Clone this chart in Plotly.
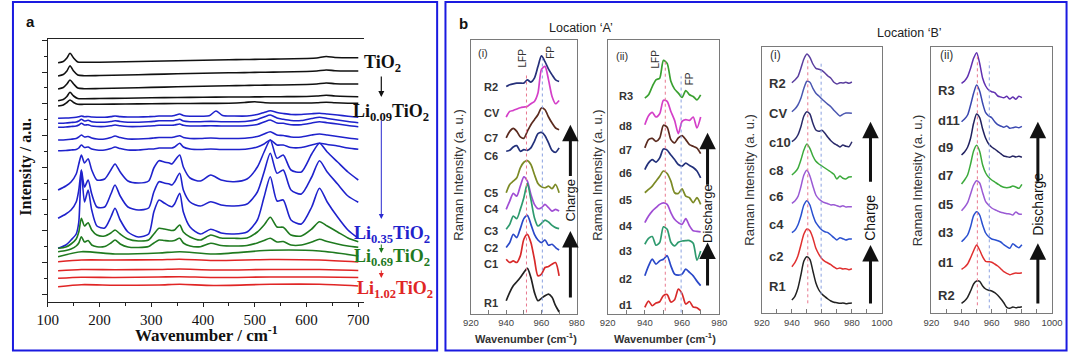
import plotly.graph_objects as go

W, H = 1080, 353


def px(x):
    return x / W


def py(y):
    return 1 - y / H


# ---------------- Panel a data (x in cm-1, intensity in a.u.) ----------------
A_X = [120, 135, 145, 155, 160, 165, 171, 178, 185, 195, 210, 222, 230, 240, 255,
       275, 295, 305, 315, 325, 335, 340, 345, 355, 362, 375, 395, 415, 435, 460,
       485, 505, 518, 530, 543, 555, 570, 590, 610, 625, 640, 660, 680, 700]
A_X_B1 = [120, 135, 145, 155, 160, 165, 171, 178, 185, 195, 210, 222, 230, 240, 255,
          275, 295, 305, 315, 325, 335, 340, 345, 355, 362, 375, 395, 412, 425, 438,
          460, 485, 505, 518, 530, 543, 555, 570, 590, 610, 625, 640, 660, 680, 700]
A_X_BLK = [120, 130, 137, 143, 150, 158, 170, 200, 250, 300, 350, 400, 450, 480,
           500, 520, 550, 600, 620, 638, 655, 680, 700]
A_X_FLAT = [120, 165, 230, 315, 355, 420, 530, 625, 700]

A_K1 = [239.3, 240.5, 244, 248.7, 244, 240, 239.7, 239.8, 240.2, 240.8, 241.3, 241.8,
        242.3, 242.5, 242.6, 242.8, 243, 243.5, 244, 245.5, 244.5, 244.3, 244.3]
A_K2 = [226, 227.5, 231, 236.3, 231, 227, 226.3, 226.5, 227, 227.6, 228.2, 228.7,
        229.2, 229.4, 229.6, 229.8, 230, 230.5, 231, 232, 231.3, 231, 231]
A_K3 = [213, 214.5, 218, 222, 218, 214, 213.3, 213.5, 214, 214.6, 215.2, 215.8,
        216.3, 216.5, 216.7, 216.9, 217, 217.5, 218, 219, 218.3, 218, 218]
A_K4 = [201.3, 202.5, 205.5, 209.7, 206, 203.5, 203.3, 203.5, 203.8, 204.2, 204.5,
        204.8, 205, 205, 205.1, 205.2, 205.3, 205.5, 206, 206.8, 206, 205.5, 205.3]
A_K5 = [196, 197, 199.5, 202, 199.5, 197.7, 197.7, 197.8, 198, 198.3, 198.5, 198.6,
        198.8, 199.5, 200.3, 199.3, 199, 199, 199.3, 199.8, 199.3, 198.8, 198.7]

A_B1 = [183.7, 184, 184.3, 184.8, 185.3, 186, 185.3, 185.5, 185, 184.8, 184.8, 185.4,
        186, 185.4, 185, 185, 185.3, 185.5, 186, 186, 186, 186, 186.5, 188, 186.5,
        185.8, 185.8, 186.2, 191, 186.5, 186, 186, 187.5, 189.5, 191.3, 189.5, 188.5,
        187.5, 187.5, 188.3, 188.7, 188, 187, 185.8, 184.7]
A_B2 = [178.7, 179, 179.5, 180, 181, 182.7, 181, 181.7, 180.3, 179.8, 179.8, 180.5,
        181.3, 180.5, 179.8, 179.8, 180.2, 180.6, 181.2, 181.2, 181.2, 181.2, 181.5,
        182.7, 181, 180.3, 180.3, 180.6, 180.3, 180.3, 180.8, 182.5, 185, 187, 184,
        182.7, 181.5, 181.5, 183.5, 184.7, 183.5, 182, 180.5, 179.3]
A_B3 = [174.7, 175, 175.5, 176, 177, 178.7, 177, 177.3, 176, 175.5, 175.5, 176.3, 177,
        176.2, 175.5, 175.5, 176, 176.3, 176.8, 176.8, 176.8, 176.8, 177, 178, 176.8,
        176, 176, 176.3, 176, 176, 176.3, 177.5, 180, 182, 179, 178.7, 177.3, 177.3,
        179, 180.3, 179.3, 178, 176.5, 175.3]
A_B4 = [162, 162.3, 162.8, 163.5, 165, 167, 165, 165.5, 164, 163, 163, 164.5, 166,
        164.5, 163, 163, 163.5, 164, 164.5, 164.5, 164.5, 164.5, 165, 166.3, 164.5,
        163.5, 163.5, 164, 163.5, 163.5, 164, 165.5, 168, 170.3, 167, 166.5, 165, 165,
        167, 168, 167, 165.5, 164, 162.7]
A_B5 = [151.3, 151.5, 152, 152.5, 154, 157, 154.5, 155, 153, 152, 152, 153.5, 155,
        153.5, 152, 152, 153, 153, 154, 154, 154, 154, 155, 158.7, 155, 153, 152.5,
        153, 152.5, 152.5, 153, 155, 158, 162, 157, 157, 154.5, 154.5, 157, 158.7,
        157.5, 156, 154, 152.7]
A_S1 = [112, 116, 120, 128, 138, 147, 139, 143.3, 132, 122, 123, 132, 138, 130, 121,
        119, 121, 134, 141.3, 140, 139, 138, 141, 147, 135, 124, 121, 127, 122, 120.3,
        123, 135, 150, 162, 143.7, 147, 132, 130, 148, 158.7, 150, 140, 130, 122]
A_S2 = [83.7, 88, 92, 100, 112, 132, 115, 122, 108, 95, 95, 108, 117, 106, 95, 92, 94,
        110, 120.3, 119, 118, 117, 120, 128.7, 112, 100, 96, 100.3, 97, 96, 98, 110,
        130, 148.7, 128.7, 132, 112, 108, 125, 141.3, 130, 118, 106, 99.7]
A_S3 = [53.7, 57, 62, 68, 80, 132, 100, 112, 92, 76, 74, 85, 93.7, 82, 70, 65, 68, 90,
        102, 99, 96, 95.3, 98, 108.7, 90, 75, 68, 72.7, 69, 68, 70, 82, 105, 125.3,
        101, 102, 82, 78, 95, 113.7, 100, 85, 72, 63.7]
A_G1 = [53.7, 55, 58, 63, 70, 83.7, 76, 79.3, 72, 67, 66, 69, 72, 68, 63, 61, 62, 68,
        73.7, 73, 72, 71.5, 72, 77, 70, 65, 62, 67, 64, 63.7, 64, 70, 77, 84.7, 75,
        74.7, 67, 66, 73, 80.3, 76, 70, 64, 60.3]
A_G2 = [50.3, 51.5, 53, 56, 59, 65.3, 60, 61.5, 57, 55.3, 55.5, 59, 62, 58, 55, 54.5,
        55.5, 59, 62, 61.5, 61, 61, 61.5, 63.7, 59, 56, 55.3, 58.7, 56.5, 56, 56.5, 59,
        61.5, 63.7, 60, 60.5, 57, 57, 60, 62.7, 60.5, 58, 56, 54.7]
A_G3 = [45.3, 50.3, 48, 49, 50.3, 48, 51.7, 51, 46]
A_R1 = [40.3, 42, 42, 42.3, 42.8, 41.5, 42.5, 42, 40]
A_R2 = [31.3, 32.5, 32.3, 32.5, 33, 32, 32.5, 32.5, 31.5]
A_R3 = [23.7, 24.8, 24.5, 25, 25.3, 24.5, 25, 25, 24.5]
A_R4 = [15.3, 17.3, 16.8, 17, 17.7, 16.5, 17.7, 17.7, 16]

# ---------------- Panel b, Location A (x 940-970) ----------------
BA_X = [940, 942, 944, 946, 948, 950, 952, 954, 956, 958, 960, 962, 964, 966, 968, 970]
BA1_NAMES = ["R2", "CV", "C7", "C6", "C5", "C4", "C3", "C2", "C1", "R1"]
BA1_Y = [
    [226.8, 228.5, 229.5, 230.2, 230.2, 230.2, 233.5, 231.2, 235.2, 246.8, 257.5, 251.8, 244.2, 238.5, 233.5, 231.8],
    [196.2, 201.8, 202.8, 204.2, 205.5, 206.2, 206.8, 209.5, 211.8, 220.2, 244, 247, 233.5, 216.8, 209.5, 212.8],
    [175.2, 181.8, 184.8, 181.8, 176.2, 174.8, 181.8, 188.5, 193.5, 198.5, 205.2, 203.5, 196.2, 190.2, 185.2, 183.5],
    [161.8, 162.8, 166.2, 167.5, 161.8, 163.5, 162.8, 165.2, 171.8, 179.5, 180.8, 177.5, 170.2, 162.8, 160.8, 165.2],
    [120.2, 128.5, 131.8, 135.2, 145.2, 150.8, 152.5, 148.5, 138.5, 129.5, 126.2, 125.2, 126.8, 124.2, 128.5, 120.2],
    [103.5, 111.8, 119.5, 116.8, 126.8, 136.2, 131.8, 118.5, 108.5, 104.2, 105.2, 108.5, 105.2, 101.8, 103.5, 101.8],
    [83.5, 88.5, 96.8, 94.2, 103.5, 115.2, 129.5, 113.5, 95.2, 86.8, 89.5, 92.8, 90.8, 87.5, 85.2, 84.2],
    [65.2, 70.2, 78.5, 75.2, 84.2, 94.2, 97.5, 88.5, 78.5, 72.8, 70.2, 72.8, 67.5, 68.5, 65.2, 62.8],
    [53.5, 50.2, 51.8, 50.2, 56.8, 73.5, 78.5, 70.2, 53.5, 36.8, 38.5, 45.2, 46.2, 48.5, 50.2, 36.8],
    [11.8, 20.2, 26.8, 30.8, 35.2, 40.2, 44.2, 35.2, 20.2, 11.8, 14.2, 16.8, 18.5, 15.2, 6.8, 0.5],
]
BA1_COLORS = ["#26307a", "#d43fc8", "#5a2a1e", "#22307a", "#7c8a25", "#a04ed4",
              "#2e9a6e", "#2a48c8", "#d82a2a", "#222222"]
BA1_LABEL_Y = [226.8, 200.2, 175.2, 156.8, 120.2, 103.5, 81.8, 64.5, 48.5, 9.5]

BA2_NAMES = ["R3", "d8", "d7", "d6", "d5", "d4", "d3", "d2", "d1"]
BA2_Y = [
    [215.2, 218.5, 226.8, 233.5, 235.2, 253, 250, 232, 224.2, 220.2, 215.8, 222.8, 218.5, 216.8, 213.5, 218.5],
    [188.5, 197.5, 200.8, 196.2, 199.5, 213, 212, 201.8, 192.8, 179.5, 191.8, 193.5, 192.8, 196.2, 185.2, 196.2],
    [165.2, 173.5, 174.8, 171.8, 175.2, 188, 186, 173.5, 170.2, 175.2, 177.5, 173.5, 168.5, 166.8, 165, 159.5],
    [143.5, 150.2, 153.5, 151, 155.2, 164, 163, 158, 153.5, 148.5, 147, 150, 147.5, 145.5, 142, 135.2],
    [120.2, 123.5, 126.8, 131.8, 136.8, 142, 139.5, 131.8, 120.2, 119.5, 124, 116.8, 115.2, 110.2, 115.2, 108.5],
    [90.2, 96.8, 101.8, 105.2, 108.5, 110, 108.5, 100.2, 93.5, 90.2, 88.5, 94.2, 87, 82, 81.5, 81],
    [68.5, 74.5, 76.2, 67.5, 70.2, 86, 83.5, 70.5, 66.8, 70.5, 71.8, 72.2, 72.2, 69.5, 52.5, 61.8],
    [36.8, 46.8, 53.5, 48.5, 51.8, 53.5, 57, 46.8, 38.5, 37.5, 38.5, 43.5, 40.2, 36.8, 31.5, 27],
    [5.2, 11.5, 6.8, 9.5, 10.8, 17, 18, 10.5, 12.8, 23.5, 19, 8.5, 11, 5.5, 4.8, 1.8],
]
BA2_COLORS = ["#3aa030", "#d43fc8", "#5a2a1e", "#22307a", "#7c8a25", "#a04ed4",
              "#2e9a6e", "#2a48c8", "#d82a2a"]
BA2_LABEL_Y = [216.8, 186.8, 163.5, 140.2, 112.5, 86.8, 61.8, 33.5, 7.5]

# ---------------- Panel b, Location B (x 940-980) ----------------
BB_X = [940, 942, 944, 946, 948, 950, 952, 954, 956, 958, 960, 962, 964, 966, 968,
        970, 972, 974, 976, 978, 980]
BB1_NAMES = ["R2", "CV", "c10", "c8", "c6", "c4", "c2", "R1"]
BB1_Y = [
    [230.6, 233.3, 236.6, 245, 254.3, 259.3, 256, 249.3, 245, 244, 243, 240.3, 237.3, 235, 231, 229.3, 230.6, 230.3, 231, 230, 231.3],
    [201.6, 204.3, 208.3, 215, 225, 232, 231, 225, 220, 217.3, 214.3, 211.6, 209, 206.6, 203, 200, 197.3, 199, 200.3, 200.3, 200],
    [171.6, 174, 178.3, 186.6, 197.3, 201.6, 199.3, 190, 183.3, 182, 183, 180, 176, 172.6, 170, 168.3, 166.3, 168.3, 167, 166.6, 171.6],
    [138.3, 141, 145, 153.3, 163.3, 169.3, 165, 157.3, 152, 149.3, 147.3, 145.3, 143.3, 141.3, 139, 134.3, 137.3, 135, 134.3, 136.3, 136.6],
    [110, 112.3, 116.6, 126.6, 138.3, 143, 137.3, 127.3, 118.3, 114.3, 112, 110.6, 109.6, 108.3, 108.6, 107.6, 106.6, 107.6, 106.3, 106.6, 106.6],
    [80.6, 83, 88.3, 97.3, 108.3, 112.6, 108.3, 98.3, 90.6, 86.6, 83.3, 81.6, 80.6, 78.3, 75.6, 73.3, 75.6, 74.6, 73.3, 74.3, 74.3],
    [46.6, 50.6, 57.3, 68.3, 79.3, 84.3, 82.6, 75.3, 65, 59, 54.6, 52, 50.3, 48.6, 46.3, 44.6, 45.3, 44.3, 44.6, 43.6, 44.6],
    [13.3, 17, 25, 38.3, 52.3, 56.6, 54, 42.3, 30.3, 23.3, 19.3, 16.6, 14.3, 12.3, 11, 10.6, 10, 10.3, 9.6, 10, 10.3],
]
BB1_COLORS = ["#5a3e9e", "#4a56b0", "#2a2a6a", "#3caa3c", "#9a5ad4", "#2a50d0",
              "#e03030", "#222222"]
BB1_LABEL_Y = [230, 200, 171, 143.3, 116.6, 89.3, 57.3, 26.6]

BB2_NAMES = ["R3", "d11", "d9", "d7", "d5", "d3", "d1", "R2"]
BB2_Y = [
    [230, 232.3, 236.6, 245, 255, 260.6, 250, 235, 227.3, 223.3, 221.6, 220.6, 217.3, 216.3, 215.6, 217, 214.3, 216.3, 214, 217, 215.6],
    [191.6, 194.3, 198.3, 208.3, 220, 228.3, 222.3, 210, 200.6, 197.3, 195.6, 191.6, 188.6, 187.3, 186, 187.3, 185, 185.6, 186.3, 185.6, 187],
    [158.3, 161.3, 166, 175, 190, 199.3, 195.6, 184.3, 175, 169.3, 166.3, 164.3, 162, 159.6, 157.3, 156.6, 156, 157.3, 156.3, 157, 156],
    [129.3, 133.3, 138.3, 149.3, 162.3, 168, 162, 148.3, 140.3, 136, 133.3, 131.3, 129.3, 127.3, 126, 125.6, 126, 127.3, 126.3, 125, 129],
    [102.6, 106, 110.6, 119.3, 128.3, 132.6, 130.3, 120.6, 111.6, 108, 105.3, 103.6, 102.3, 101, 100.3, 99.6, 99.3, 98.3, 101.3, 99.3, 99],
    [71.6, 74.6, 78.3, 86.6, 97.6, 101.6, 98.3, 88.3, 80.3, 76.6, 74.3, 73.6, 72.6, 71.3, 68.6, 66.6, 65, 69.6, 67.3, 65.6, 68.6],
    [44, 46, 49.3, 55.6, 62.6, 68.3, 63.3, 56.6, 52, 51.6, 51, 49.3, 47.3, 44.6, 41.6, 40, 38.6, 39.6, 40.3, 40, 40.6],
    [10, 12.3, 16, 22.3, 29.3, 32.3, 32, 27.3, 24.3, 23, 22.3, 20.6, 18, 14.6, 10.6, 6, 5, 6.3, 5.6, 6, 6.6],
]
BB2_COLORS = ["#6030b0", "#3a48b0", "#222260", "#3caa3c", "#9a5ad4", "#2a50d0",
              "#e03030", "#222222"]
BB2_LABEL_Y = [223.3, 193.3, 166, 138.3, 109.3, 80.6, 50.6, 18.3]

# reference lines (LFP / FP positions, cm-1)
LFP_A1, FP_A1 = 951.5, 960.5
LFP_A2, FP_A2 = 951, 959.5
LFP_B1, FP_B1 = 950.6, 959.5
LFP_B2, FP_B2 = 950.5, 958.4

# ---------------- Figure ----------------
fig = go.Figure()


def add(x, y, color, ax, width=1.6):
    fig.add_trace(go.Scatter(
        x=x, y=y, mode="lines",
        line=dict(color=color, width=width, shape="spline", smoothing=0.7),
        xaxis="x" + ax, yaxis="y" + ax, showlegend=False, hoverinfo="skip"))


BLACK, BLUE, GREEN, RED = "#111111", "#1f22cc", "#1f7a1f", "#e02525"
for yv in [A_K1, A_K2, A_K3, A_K4, A_K5]:
    add(A_X_BLK, yv, BLACK, "")
add(A_X_B1, A_B1, BLUE, "")
for yv in [A_B2, A_B3, A_B4, A_B5, A_S1, A_S2, A_S3]:
    add(A_X, yv, BLUE, "")
add(A_X, A_G1, GREEN, "")
add(A_X, A_G2, GREEN, "")
add(A_X_FLAT, A_G3, GREEN, "")
for yv in [A_R1, A_R2, A_R3, A_R4]:
    add(A_X_FLAT, yv, RED, "")

for yv, c in zip(BA1_Y, BA1_COLORS):
    add(BA_X, yv, c, "2", 1.7)
for yv, c in zip(BA2_Y, BA2_COLORS):
    add(BA_X, yv, c, "3", 1.7)
for yv, c in zip(BB1_Y, BB1_COLORS):
    add(BB_X, yv, c, "4", 1.5)
for yv, c in zip(BB2_Y, BB2_COLORS):
    add(BB_X, yv, c, "5", 1.5)

SERIF = "Liberation Serif, Times New Roman, serif"
SANS = "Liberation Sans, Arial, sans-serif"
GRAY = "#7a7a7a"

layout = dict(
    width=W, height=H, margin=dict(l=0, r=0, t=0, b=0),
    paper_bgcolor="white", plot_bgcolor="white", showlegend=False,
)

# panel a axes
layout["xaxis"] = dict(
    domain=[px(37.5), px(360)], range=[100, 710.4], anchor="y",
    showline=True, linecolor="#222", linewidth=1.2, mirror=True,
    showgrid=False, zeroline=False,
    ticks="outside", ticklen=4, tickcolor="#222", tickvals=[100, 200, 300, 400, 500, 600, 700],
    minor=dict(tickvals=[150, 250, 350, 450, 550, 650], ticks="outside", ticklen=3, tickcolor="#222"),
    tickfont=dict(family=SERIF, size=15, color="#111"),
)
layout["yaxis"] = dict(
    domain=[py(302), py(39)], range=[0, 263], anchor="x",
    showline=True, linecolor="#222", linewidth=1.2, mirror=False,
    showgrid=False, zeroline=False, showticklabels=False,
    ticks="outside", ticklen=5, tickcolor="#222", tick0=7.7, dtick=31.75,
    minor=dict(tick0=23.575, dtick=31.75, ticks="outside", ticklen=3, tickcolor="#222"),
)

BFONT = dict(family=SANS, size=9.5, color="#444")


def bx(dom, rng, tv, mv, anchor):
    return dict(domain=dom, range=rng, anchor=anchor, showline=True, linecolor=GRAY,
                linewidth=1, mirror=True, showgrid=False, zeroline=False,
                ticks="inside", ticklen=4, tickcolor=GRAY, tickvals=tv,
                minor=dict(tickvals=mv, ticks="inside", ticklen=4, tickcolor=GRAY),
                tickfont=BFONT)


def by(dom, rng, anchor):
    return dict(domain=dom, range=rng, anchor=anchor, showline=True, linecolor=GRAY,
                linewidth=1, mirror=True, showgrid=False, zeroline=False,
                ticks="", showticklabels=False)


layout["xaxis2"] = bx([px(469.5), px(577.5)], [920, 980], [920, 940, 960, 980], [930, 950, 970], "y2")
layout["yaxis2"] = by([py(313.5), py(39.5)], [-1, 274], "x2")
layout["xaxis3"] = bx([px(609), px(723)], [920, 980], [920, 940, 960, 980], [930, 950, 970], "y3")
layout["yaxis3"] = by([py(313.5), py(39.5)], [-1, 274], "x3")
layout["xaxis4"] = bx([px(766.5), px(889)], [920, 1000], [920, 940, 960, 980, 1000], [930, 950, 970, 990], "y4")
layout["yaxis4"] = by([py(313.3), py(46.7)], [0, 266.6], "x4")
layout["xaxis5"] = bx([px(939.5), px(1062.7)], [920, 1000], [920, 940, 960, 980, 1000], [930, 950, 970, 990], "y5")
layout["yaxis5"] = by([py(313.3), py(46.7)], [0, 266.6], "x5")

fig.update_layout(**layout)

shapes = []
# panel borders
shapes.append(dict(type="rect", xref="paper", yref="paper", x0=px(2), x1=px(435), y0=py(350.5), y1=py(2),
                   line=dict(color="#1a1ae0", width=2)))
shapes.append(dict(type="rect", xref="paper", yref="paper", x0=px(443.5), x1=px(1077.5), y0=py(350.5), y1=py(2),
                   line=dict(color="#1a1ae0", width=2)))


def vline(ax, xv, y0, y1, color):
    shapes.append(dict(type="line", xref="x" + ax, yref="y" + ax, x0=xv, x1=xv, y0=y0, y1=y1,
                       line=dict(color=color, width=1, dash="dot")))


PINK, LBLUE = "#e8788e", "#8aa0e0"
vline("2", LFP_A1, 0, 240, PINK)
vline("2", FP_A1, 0, 255, LBLUE)
vline("3", LFP_A2, 1.8, 253, PINK)
vline("3", FP_A2, 0, 237, LBLUE)
vline("4", LFP_B1, 10, 256, PINK)
vline("4", FP_B1, 6.6, 250, LBLUE)
vline("5", LFP_B2, 8, 260, PINK)
vline("5", FP_B2, 5, 251.6, LBLUE)
fig.update_layout(shapes=shapes)

ann = []


def text(x, y, t, size, color="#111", family=SANS, angle=0, xref="paper", yref="paper",
         xanchor="center", yanchor="middle"):
    ann.append(dict(x=x, y=y, text=t, showarrow=False, xref=xref, yref=yref, textangle=angle,
                    font=dict(family=family, size=size, color=color),
                    xanchor=xanchor, yanchor=yanchor))


def parrow(x, y_tail, y_tip, color, width=1):
    ann.append(dict(x=px(x), y=py(y_tip), ax=0, ay=y_tail - y_tip, xref="paper", yref="paper",
                    showarrow=True, arrowhead=2, arrowsize=1, arrowwidth=width, arrowcolor=color,
                    text="", font=dict(size=10)))


def darrow(ax_, x, y0, y1):
    ann.append(dict(x=x, y=y1, ax=x, ay=y0, xref="x" + ax_, yref="y" + ax_, axref="x" + ax_,
                    ayref="y" + ax_, showarrow=True, arrowhead=2, arrowsize=1.1, arrowwidth=3,
                    arrowcolor="#111", text="", font=dict(size=10)))


# panel a texts
text(px(20), py(21), "<b>a</b>", 15, "#111")
text(px(15), py(167), "<b>Intensity / a.u.</b>", 16, "#111", SERIF, angle=-90)
text(px(200), py(334), "<b>Wavenumber / cm<sup>-1</sup></b>", 17, "#111", SERIF)
text(px(379), py(64), "<b>TiO<sub>2</sub></b>", 18, "#111", SERIF)
text(px(388), py(112), "<b>Li<sub>0.09</sub>TiO<sub>2</sub></b>", 18, "#111", SERIF)
text(px(389), py(234), "<b>Li<sub>0.35</sub>TiO<sub>2</sub></b>", 18, "#1f22cc", SERIF)
text(px(389), py(257), "<b>Li<sub>0.69</sub>TiO<sub>2</sub></b>", 18, "#1f7a1f", SERIF)
text(px(392), py(289), "<b>Li<sub>1.02</sub>TiO<sub>2</sub></b>", 18, "#e02525", SERIF)
parrow(378, 75, 97, "#111", 1.2)
parrow(378, 119, 219, "#2a2ad0", 1)
parrow(378, 243, 253, "#1f7a1f", 1)
parrow(378, 269, 278, "#e02525", 1)

# panel b texts
text(px(462), py(24), "<b>b</b>", 15, "#111")
text(px(582), py(28), "Location ‘A’", 12.5, "#222")
text(px(917), py(33), "Location ‘B’", 12.5, "#222")
for ax_, xc in [("2", 456), ("3", 598), ("4", 753), ("5", 925)]:
    yc = 175 if ax_ in ("2", "3") else 180
    text(px(xc), py(yc), "Raman Intensity (a. u.)", 13, "#333", angle=-90)
text(px(526), py(338), "<b>Wavenumber (cm<sup>-1</sup>)</b>", 11, "#333")
text(px(668), py(338), "<b>Wavenumber (cm<sup>-1</sup>)</b>", 11, "#333")

for names, ys, ax_, x0 in [(BA1_NAMES, BA1_LABEL_Y, "2", 926),
                           (BA2_NAMES, BA2_LABEL_Y, "3", 925),
                           (BB1_NAMES, BB1_LABEL_Y, "4", 923.4),
                           (BB2_NAMES, BB2_LABEL_Y, "5", 923.4)]:
    size = 11 if ax_ in ("2", "3") else 13
    for n, yv in zip(names, ys):
        text(x0, yv, "<b>" + n + "</b>", size, "#333", xref="x" + ax_, yref="y" + ax_, xanchor="left")

text(927, 260.5, "(i)", 11, "#333", xref="x2", yref="y2")
text(927.5, 257, "(ii)", 11, "#333", xref="x3", yref="y3")
text(929, 258.3, "(i)", 12, "#333", xref="x4", yref="y4")
text(930, 258.3, "(ii)", 12, "#333", xref="x5", yref="y5")
text(949, 255, "LFP", 10, "#333", angle=-90, xref="x2", yref="y2")
text(965, 261, "FP", 10, "#333", angle=-90, xref="x2", yref="y2")
text(945.5, 254, "LFP", 10, "#333", angle=-90, xref="x3", yref="y3")
text(963.7, 235, "FP", 10, "#333", angle=-90, xref="x3", yref="y3")

darrow("2", 976.4, 13.5, 81.8)
darrow("2", 976.4, 135.5, 188.5)
text(976.4, 112.7, "Charge", 13, "#111", angle=-90, xref="x2", yref="y2")
darrow("3", 973.7, 25.5, 70.2)
darrow("3", 973.7, 126.8, 180.5)
text(973.7, 99.5, "Discharge", 13, "#111", angle=-90, xref="x3", yref="y3")
darrow("4", 992.4, 8.3, 68.3)
darrow("4", 992.4, 130, 191.6)
text(992.4, 96, "Charge", 14, "#111", angle=-90, xref="x4", yref="y4")
darrow("5", 990.6, 8.3, 70)
darrow("5", 990.6, 130, 191.6)
text(990.6, 109.3, "Discharge", 14, "#111", angle=-90, xref="x5", yref="y5")

fig.update_layout(annotations=ann)
fig.write_html("out.html")
